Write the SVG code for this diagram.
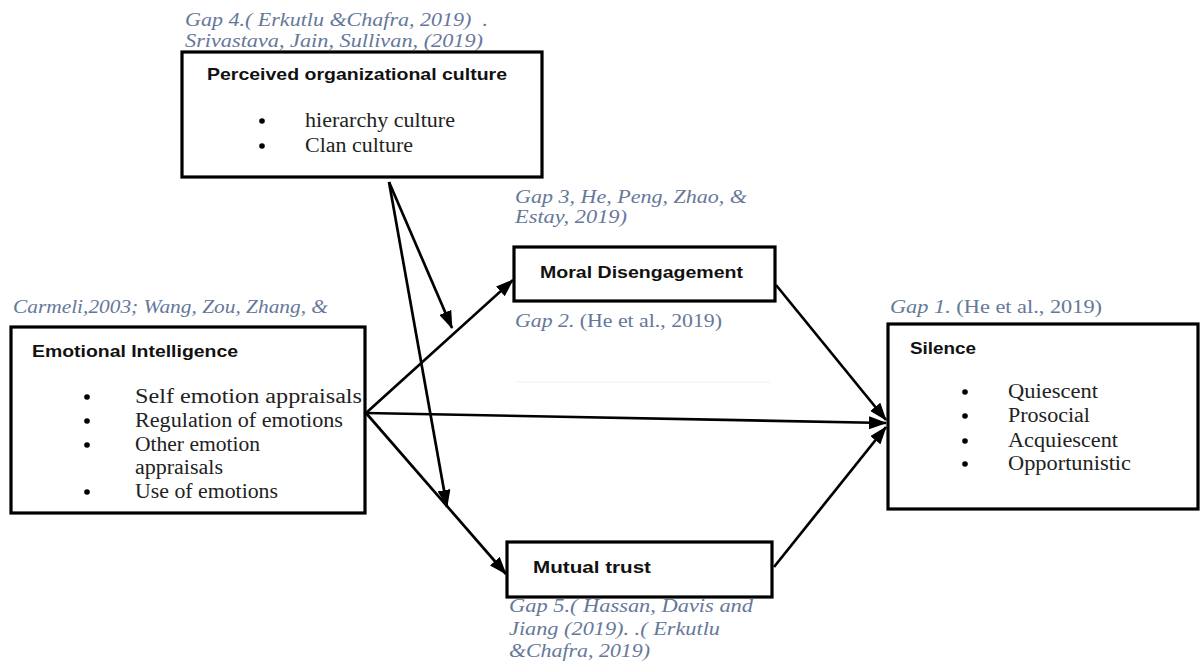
<svg xmlns="http://www.w3.org/2000/svg" width="1200" height="666" viewBox="0 0 1200 666">
<defs>
<marker id="ah" markerUnits="userSpaceOnUse" markerWidth="18" markerHeight="13" refX="17" refY="6.5" orient="auto">
<path d="M0,0 L18,6.5 L0,13 z" fill="#000"/>
</marker>
<style>
.box{fill:#fff;stroke:#000;stroke-width:3.2}
.title{font-family:"Liberation Sans",Arial,sans-serif;font-weight:bold;font-size:17px;fill:#111}
.item{font-family:"Liberation Serif","Times New Roman",serif;font-size:20px;fill:#222}
.gap{font-family:"Liberation Serif","Times New Roman",serif;font-size:19px;fill:#66789a}
.it{font-style:italic}
.bul{fill:#000}
.conn{stroke:#000;stroke-width:2.7;fill:none;marker-end:url(#ah)}
</style>
</defs>
<rect width="1200" height="666" fill="#fff"/>

<g id="labels">
<text class="gap it" x="185" y="26" textLength="303" lengthAdjust="spacingAndGlyphs" xml:space="preserve">Gap 4.( Erkutlu &amp;Chafra, 2019)  .</text>
<text class="gap it" x="185" y="47" textLength="298" lengthAdjust="spacingAndGlyphs">Srivastava, Jain, Sullivan, (2019)</text>
<text class="gap it" x="515" y="203" textLength="232" lengthAdjust="spacingAndGlyphs">Gap 3, He, Peng, Zhao, &amp;</text>
<text class="gap it" x="515" y="223" textLength="112" lengthAdjust="spacingAndGlyphs">Estay, 2019)</text>
<text class="gap" x="515" y="327" textLength="207" lengthAdjust="spacingAndGlyphs"><tspan class="it">Gap 2.</tspan> (He et al., 2019)</text>
<line x1="515" y1="382" x2="770" y2="382" stroke="#f0f0f0" stroke-width="1"/>
<text class="gap it" x="13" y="313" textLength="315" lengthAdjust="spacingAndGlyphs">Carmeli,2003; Wang, Zou, Zhang, &amp;</text>
<text class="gap" x="890" y="313" textLength="212" lengthAdjust="spacingAndGlyphs"><tspan class="it">Gap 1.</tspan> (He et al., 2019)</text>
<text class="gap it" x="509" y="612" textLength="244" lengthAdjust="spacingAndGlyphs">Gap 5.( Hassan, Davis and</text>
<text class="gap it" x="509" y="635" textLength="211" lengthAdjust="spacingAndGlyphs">Jiang (2019). .( Erkutlu</text>
<text class="gap it" x="509" y="657" textLength="141" lengthAdjust="spacingAndGlyphs">&amp;Chafra, 2019)</text>
</g>

<g id="culture">
<rect class="box" x="182" y="52" width="360" height="125"/>
<text class="title" x="207" y="80" textLength="300" lengthAdjust="spacingAndGlyphs">Perceived organizational culture</text>
<circle class="bul" cx="262" cy="121" r="2.8"/>
<text class="item" x="305" y="127" textLength="150" lengthAdjust="spacingAndGlyphs">hierarchy culture</text>
<circle class="bul" cx="262" cy="146" r="2.8"/>
<text class="item" x="305" y="152" textLength="108" lengthAdjust="spacingAndGlyphs">Clan culture</text>
</g>

<g id="emotional">
<rect class="box" x="11" y="327" width="354" height="186"/>
<text class="title" x="32" y="357" textLength="206" lengthAdjust="spacingAndGlyphs">Emotional Intelligence</text>
<circle class="bul" cx="87" cy="397" r="2.8"/>
<text class="item" x="135" y="403" textLength="227" lengthAdjust="spacingAndGlyphs">Self emotion appraisals</text>
<circle class="bul" cx="87" cy="421" r="2.8"/>
<text class="item" x="135" y="427" textLength="208" lengthAdjust="spacingAndGlyphs">Regulation of emotions</text>
<circle class="bul" cx="87" cy="445" r="2.8"/>
<text class="item" x="135" y="451" textLength="125" lengthAdjust="spacingAndGlyphs">Other emotion</text>
<text class="item" x="135" y="474" textLength="88" lengthAdjust="spacingAndGlyphs">appraisals</text>
<circle class="bul" cx="87" cy="492" r="2.8"/>
<text class="item" x="135" y="498" textLength="143" lengthAdjust="spacingAndGlyphs">Use of emotions</text>
</g>

<g id="moral">
<rect class="box" x="514" y="247" width="261" height="54"/>
<text class="title" x="540" y="278" textLength="203" lengthAdjust="spacingAndGlyphs">Moral Disengagement</text>
</g>

<g id="trust">
<rect class="box" x="507" y="542" width="265" height="55"/>
<text class="title" x="533" y="573" textLength="118" lengthAdjust="spacingAndGlyphs">Mutual trust</text>
</g>

<g id="silence">
<rect class="box" x="888" y="324" width="310" height="185"/>
<text class="title" x="910" y="354" textLength="66" lengthAdjust="spacingAndGlyphs">Silence</text>
<circle class="bul" cx="965" cy="392" r="2.8"/>
<text class="item" x="1008" y="398" textLength="90" lengthAdjust="spacingAndGlyphs">Quiescent</text>
<circle class="bul" cx="965" cy="416" r="2.8"/>
<text class="item" x="1008" y="422" textLength="82" lengthAdjust="spacingAndGlyphs">Prosocial</text>
<circle class="bul" cx="965" cy="441" r="2.8"/>
<text class="item" x="1008" y="447" textLength="110" lengthAdjust="spacingAndGlyphs">Acquiescent</text>
<circle class="bul" cx="965" cy="464" r="2.8"/>
<text class="item" x="1008" y="470" textLength="123" lengthAdjust="spacingAndGlyphs">Opportunistic</text>
</g>

<g id="connectors">
<line class="conn" x1="366" y1="413" x2="513" y2="280"/>
<line class="conn" x1="366" y1="413" x2="886" y2="423"/>
<line class="conn" x1="366" y1="413" x2="506" y2="574"/>
<line class="conn" x1="776" y1="285" x2="886" y2="420"/>
<line class="conn" x1="774" y1="567" x2="886" y2="427"/>
<line class="conn" x1="389" y1="182" x2="452" y2="328"/>
<line class="conn" x1="389" y1="182" x2="447" y2="507"/>
</g>
</svg>
